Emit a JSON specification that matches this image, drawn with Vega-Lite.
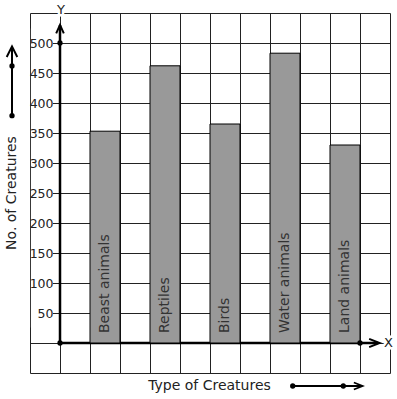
{
  "$schema": "https://vega.github.io/schema/vega-lite/v6.json",
  "width": 360,
  "height": 360,
  "autosize": {"type": "none"},
  "padding": {"left": 30, "top": 13, "right": 7, "bottom": 26},
  "background": "white",
  "config": {"view": {"stroke": null}, "font": "DejaVu Sans", "axis": {"labelFont": "DejaVu Sans", "titleFont": "DejaVu Sans"}},
  "data": {"values": [
    {"type": "Beast animals", "count": 353},
    {"type": "Reptiles", "count": 462},
    {"type": "Birds", "count": 365},
    {"type": "Water animals", "count": 483},
    {"type": "Land animals", "count": 330}
  ]},
  "resolve": {"scale": {"x": "independent"}, "axis": {"x": "independent", "y": "independent"}},
  "layer": [
    {
      "data": {"values": [{}]},
      "mark": {"type": "rule", "stroke": "#000", "strokeWidth": 2.5},
      "encoding": {
        "x": {"datum": 0, "type": "quantitative", "scale": {"domain": [-1, 11], "nice": false, "zero": false},
              "axis": {"orient": "bottom", "values": [-1,0,1,2,3,4,5,6,7,8,9,10,11], "grid": true, "labels": false, "ticks": false, "domain": false, "title": null, "gridColor": "#222", "gridWidth": 1, "gridOpacity": 1, "zindex": 0}},
        "x2": {"datum": 10.6},
        "y": {"datum": 0, "type": "quantitative", "scale": {"domain": [-50, 550], "nice": false, "zero": false},
              "axis": {"orient": "right", "values": [-50,0,50,100,150,200,250,300,350,400,450,500,550], "grid": true, "labels": false, "ticks": false, "domain": false, "title": null, "gridColor": "#222", "gridWidth": 1, "gridOpacity": 1, "zindex": 0}}
      }
    },
    {
      "data": {"values": [{}]},
      "mark": {"type": "rect", "fill": "white", "stroke": null},
      "encoding": {
        "x": {"datum": -0.97, "type": "quantitative", "scale": {"domain": [-1, 11], "nice": false, "zero": false}, "axis": null},
        "x2": {"datum": -0.235},
        "y": {"datum": 26, "type": "quantitative", "scale": {"domain": [-50, 550], "nice": false, "zero": false}, "axis": null},
        "y2": {"datum": 524}
      }
    },
    {
      "data": {"values": [{}]},
      "mark": {"type": "rule", "stroke": "#000", "strokeWidth": 2.5},
      "encoding": {
        "x": {"datum": 0, "type": "quantitative", "scale": {"domain": [-1, 11], "nice": false, "zero": false}, "axis": null},
        "y": {"datum": 0, "type": "quantitative", "scale": {"domain": [-50, 550], "nice": false, "zero": false}, "axis": null},
        "y2": {"datum": 530}
      }
    },
    {
      "mark": {"type": "bar", "fill": "#999999", "stroke": "#000", "strokeWidth": 1},
      "encoding": {
        "x": {"field": "type", "type": "nominal", "sort": null, "scale": {"type": "band", "range": [45, 345], "paddingInner": 0.5, "paddingOuter": 0.25},
              "axis": {"orient": "bottom", "labels": false, "ticks": false, "domain": false, "grid": false, "title": "Type of Creatures", "titleX": 179, "titleY": 12, "titleAlign": "center", "titleBaseline": "middle", "titleFontSize": 14, "titleFontWeight": "normal", "titleColor": "#222", "zindex": 2}},
        "y": {"field": "count", "type": "quantitative", "scale": {"domain": [-50, 550], "nice": false, "zero": false},
              "axis": {"orient": "left", "offset": -30, "values": [50,100,150,200,250,300,350,400,450,500], "grid": false, "ticks": false, "tickSize": 0, "domain": false, "labelColor": "#222", "labelFontSize": 12.5, "labelPadding": 7, "zindex": 2,
                       "title": "No. of Creatures", "titleX": -49, "titleY": 179.5, "titleAngle": 270, "titleAlign": "center", "titleBaseline": "middle", "titleFontSize": 14, "titleFontWeight": "normal", "titleColor": "#222"}}
      }
    },
    {
      "mark": {"type": "text", "angle": 270, "align": "left", "baseline": "middle", "dx": 10, "fontSize": 14, "fill": "#333"},
      "encoding": {
        "x": {"field": "type", "type": "nominal", "sort": null, "scale": {"type": "band", "range": [45, 345], "paddingInner": 0.5, "paddingOuter": 0.25}, "axis": null},
        "y": {"datum": 0, "type": "quantitative", "scale": {"domain": [-50, 550], "nice": false, "zero": false}, "axis": null},
        "text": {"field": "type"}
      }
    },
    {
      "data": {"values": [{}]},
      "mark": {"type": "point", "shape": "circle", "filled": true, "fill": "#000", "size": 28, "opacity": 1},
      "encoding": {
        "x": {"datum": 0, "type": "quantitative", "scale": {"domain": [-1, 11], "nice": false, "zero": false}, "axis": null},
        "y": {"datum": 0, "type": "quantitative", "scale": {"domain": [-50, 550], "nice": false, "zero": false}, "axis": null}
      }
    },
    {
      "data": {"values": [{}]},
      "mark": {"type": "point", "shape": "circle", "filled": true, "fill": "#000", "size": 28, "opacity": 1},
      "encoding": {
        "x": {"datum": 0, "type": "quantitative", "scale": {"domain": [-1, 11], "nice": false, "zero": false}, "axis": null},
        "y": {"datum": 500, "type": "quantitative", "scale": {"domain": [-50, 550], "nice": false, "zero": false}, "axis": null}
      }
    },
    {
      "data": {"values": [{}]},
      "mark": {"type": "point", "shape": "circle", "filled": true, "fill": "#000", "size": 28, "opacity": 1},
      "encoding": {
        "x": {"datum": 10, "type": "quantitative", "scale": {"domain": [-1, 11], "nice": false, "zero": false}, "axis": null},
        "y": {"datum": 0, "type": "quantitative", "scale": {"domain": [-50, 550], "nice": false, "zero": false}, "axis": null}
      }
    },
    {
      "data": {"values": [{}]},
      "mark": {"type": "point", "shape": "M -0.9 1 L 0 -1 L 0.9 1", "filled": false, "stroke": "#000", "strokeWidth": 2, "size": 72, "opacity": 1},
      "encoding": {
        "x": {"datum": 0, "type": "quantitative", "scale": {"domain": [-1, 11], "nice": false, "zero": false}, "axis": null},
        "y": {"datum": 523, "type": "quantitative", "scale": {"domain": [-50, 550], "nice": false, "zero": false}, "axis": null}
      }
    },
    {
      "data": {"values": [{}]},
      "mark": {"type": "point", "shape": "M -1 -0.8 L 1 0 L -1 0.8", "filled": false, "stroke": "#000", "strokeWidth": 2, "size": 110, "opacity": 1},
      "encoding": {
        "x": {"datum": 10.48, "type": "quantitative", "scale": {"domain": [-1, 11], "nice": false, "zero": false}, "axis": null},
        "y": {"datum": 0, "type": "quantitative", "scale": {"domain": [-50, 550], "nice": false, "zero": false}, "axis": null}
      }
    },
    {
      "data": {"values": [{}]},
      "mark": {"type": "rule", "stroke": "#000", "strokeWidth": 2},
      "encoding": {
        "x": {"datum": -1.6, "type": "quantitative", "scale": {"domain": [-1, 11], "nice": false, "zero": false}, "axis": null},
        "y": {"datum": 378.8, "type": "quantitative", "scale": {"domain": [-50, 550], "nice": false, "zero": false}, "axis": null},
        "y2": {"datum": 492}
      }
    },
    {
      "data": {"values": [{}]},
      "mark": {"type": "point", "shape": "M -1 1 L 0 -1 L 1 1", "filled": false, "stroke": "#000", "strokeWidth": 2, "size": 112, "opacity": 1},
      "encoding": {
        "x": {"datum": -1.6, "type": "quantitative", "scale": {"domain": [-1, 11], "nice": false, "zero": false}, "axis": null},
        "y": {"datum": 485.5, "type": "quantitative", "scale": {"domain": [-50, 550], "nice": false, "zero": false}, "axis": null}
      }
    },
    {
      "data": {"values": [{}]},
      "mark": {"type": "point", "shape": "circle", "filled": true, "fill": "#000", "size": 28, "opacity": 1},
      "encoding": {
        "x": {"datum": -1.6, "type": "quantitative", "scale": {"domain": [-1, 11], "nice": false, "zero": false}, "axis": null},
        "y": {"datum": 461.7, "type": "quantitative", "scale": {"domain": [-50, 550], "nice": false, "zero": false}, "axis": null}
      }
    },
    {
      "data": {"values": [{}]},
      "mark": {"type": "point", "shape": "circle", "filled": true, "fill": "#000", "size": 28, "opacity": 1},
      "encoding": {
        "x": {"datum": -1.6, "type": "quantitative", "scale": {"domain": [-1, 11], "nice": false, "zero": false}, "axis": null},
        "y": {"datum": 378.8, "type": "quantitative", "scale": {"domain": [-50, 550], "nice": false, "zero": false}, "axis": null}
      }
    },
    {
      "data": {"values": [{}]},
      "mark": {"type": "rule", "stroke": "#000", "strokeWidth": 2},
      "encoding": {
        "x": {"datum": 7.757, "type": "quantitative", "scale": {"domain": [-1, 11], "nice": false, "zero": false}, "axis": null},
        "x2": {"datum": 10.03},
        "y": {"datum": -71.7, "type": "quantitative", "scale": {"domain": [-50, 550], "nice": false, "zero": false}, "axis": null}
      }
    },
    {
      "data": {"values": [{}]},
      "mark": {"type": "point", "shape": "M -1 -0.8 L 1 0 L -1 0.8", "filled": false, "stroke": "#000", "strokeWidth": 1.8, "size": 76, "opacity": 1},
      "encoding": {
        "x": {"datum": 9.94, "type": "quantitative", "scale": {"domain": [-1, 11], "nice": false, "zero": false}, "axis": null},
        "y": {"datum": -71.7, "type": "quantitative", "scale": {"domain": [-50, 550], "nice": false, "zero": false}, "axis": null}
      }
    },
    {
      "data": {"values": [{}]},
      "mark": {"type": "point", "shape": "circle", "filled": true, "fill": "#000", "size": 28, "opacity": 1},
      "encoding": {
        "x": {"datum": 7.757, "type": "quantitative", "scale": {"domain": [-1, 11], "nice": false, "zero": false}, "axis": null},
        "y": {"datum": -71.7, "type": "quantitative", "scale": {"domain": [-50, 550], "nice": false, "zero": false}, "axis": null}
      }
    },
    {
      "data": {"values": [{}]},
      "mark": {"type": "point", "shape": "circle", "filled": true, "fill": "#000", "size": 28, "opacity": 1},
      "encoding": {
        "x": {"datum": 9.443, "type": "quantitative", "scale": {"domain": [-1, 11], "nice": false, "zero": false}, "axis": null},
        "y": {"datum": -71.7, "type": "quantitative", "scale": {"domain": [-50, 550], "nice": false, "zero": false}, "axis": null}
      }
    },
    {
      "data": {"values": [{}]},
      "mark": {"type": "text", "text": "Y", "align": "center", "baseline": "middle", "fontSize": 13, "fill": "white", "stroke": "white", "strokeWidth": 5},
      "encoding": {
        "x": {"datum": 0.033, "type": "quantitative", "scale": {"domain": [-1, 11], "nice": false, "zero": false}, "axis": null},
        "y": {"datum": 555, "type": "quantitative", "scale": {"domain": [-50, 550], "nice": false, "zero": false}, "axis": null}
      }
    },
    {
      "data": {"values": [{}]},
      "mark": {"type": "text", "text": "Y", "align": "center", "baseline": "middle", "fontSize": 13, "fill": "#222"},
      "encoding": {
        "x": {"datum": 0.033, "type": "quantitative", "scale": {"domain": [-1, 11], "nice": false, "zero": false}, "axis": null},
        "y": {"datum": 555, "type": "quantitative", "scale": {"domain": [-50, 550], "nice": false, "zero": false}, "axis": null}
      }
    },
    {
      "data": {"values": [{}]},
      "mark": {"type": "text", "text": "X", "align": "center", "baseline": "middle", "fontSize": 13, "fill": "white", "stroke": "white", "strokeWidth": 5},
      "encoding": {
        "x": {"datum": 10.95, "type": "quantitative", "scale": {"domain": [-1, 11], "nice": false, "zero": false}, "axis": null},
        "y": {"datum": 0, "type": "quantitative", "scale": {"domain": [-50, 550], "nice": false, "zero": false}, "axis": null}
      }
    },
    {
      "data": {"values": [{}]},
      "mark": {"type": "text", "text": "X", "align": "center", "baseline": "middle", "fontSize": 13, "fill": "#222"},
      "encoding": {
        "x": {"datum": 10.95, "type": "quantitative", "scale": {"domain": [-1, 11], "nice": false, "zero": false}, "axis": null},
        "y": {"datum": 0, "type": "quantitative", "scale": {"domain": [-50, 550], "nice": false, "zero": false}, "axis": null}
      }
    }
  ]
}
